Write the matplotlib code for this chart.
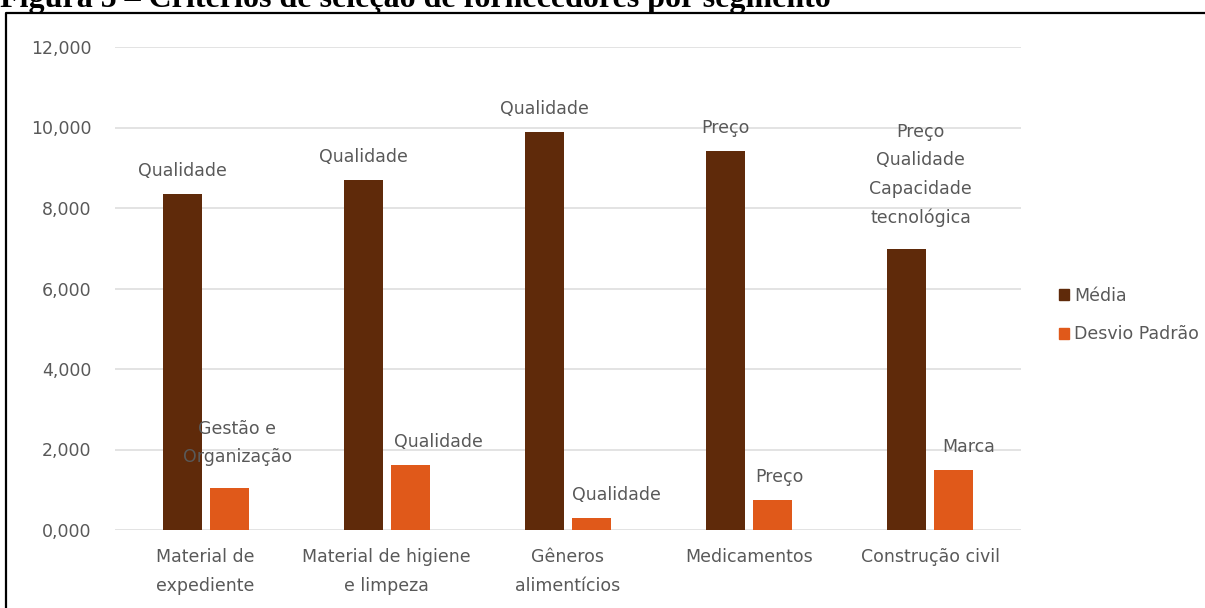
import numpy as np
import matplotlib.pyplot as plt
from matplotlib.lines import Line2D
from matplotlib.patches import Patch

# data
segmentos = ['Material de\nexpediente', 'Material de higiene\ne limpeza',
             'Gêneros\nalimentícios', 'Medicamentos', 'Construção civil']
media = [8.35, 8.70, 9.88, 9.42, 6.98]
desvio = [1.04, 1.62, 0.30, 0.75, 1.50]
rotulo_media = ['Qualidade', 'Qualidade', 'Qualidade', 'Preço',
                'Preço\nQualidade\nCapacidade\ntecnológica']
rotulo_desvio = ['Gestão e\nOrganização', 'Qualidade', 'Qualidade', 'Preço', 'Marca']
yticks = [0, 2, 4, 6, 8, 10, 12]

cor_media = '#5f2a0a'
cor_desvio = '#e0591a'
cinza = '#595959'
fonte = 'DejaVu Sans'
fs = 12.5

W, H = 1205, 608
fig = plt.figure(figsize=(W / 100, H / 100), dpi=100)
ax = fig.add_axes([115 / W, (H - 530) / H, 906 / W, (530 - 47) / H])

x = np.arange(len(segmentos))
larg = 0.215
off = 0.13
b1 = ax.bar(x - off, media, larg, color=cor_media, label='Média', zorder=3)
b2 = ax.bar(x + off, desvio, larg, color=cor_desvio, label='Desvio Padrão', zorder=3)

# bar labels (small pixel shifts to mimic the original placement)
dx_media = [0, 0, 0, 0, 14]
dx_desvio = [8, 28, 25, 7, 15]
for i in range(len(x)):
    for txt, xi, yi, dx in [(rotulo_media[i], x[i] - off, media[i], dx_media[i]),
                            (rotulo_desvio[i], x[i] + off, desvio[i], dx_desvio[i])]:
        dy = 14 if '\n' not in txt else 22
        ax.annotate(txt, (xi, yi), xytext=(dx, dy),
                    textcoords='offset pixels', ha='center', va='bottom',
                    fontsize=fs, color=cinza, family=fonte, linespacing=1.75)

ax.set_xlim(-0.5, len(x) - 0.5)
ax.set_ylim(0, 12)
ax.set_yticks(yticks)
ax.set_yticklabels([('%.3f' % v).replace('.', ',') for v in yticks])
ax.set_xticks(x)
ax.set_xticklabels(segmentos, linespacing=1.8)
ax.tick_params(axis='both', length=0, colors=cinza, labelsize=fs)
ax.tick_params(axis='y', pad=17)
ax.tick_params(axis='x', pad=13)
for t in ax.get_xticklabels() + ax.get_yticklabels():
    t.set_family(fonte)
ax.yaxis.grid(True, color='#dedede', linewidth=1.2, zorder=0)
for s in ax.spines.values():
    s.set_visible(False)

handles = [Patch(color=cor_media), Patch(color=cor_desvio)]
fig.legend(handles, ['Média', 'Desvio Padrão'], loc='center left',
           bbox_to_anchor=(1043 / W, (H - 315) / H), frameon=False,
           handlelength=0.6, handleheight=0.6, handletextpad=0.3,
           labelspacing=1.2, prop={'family': fonte, 'size': fs},
           labelcolor=cinza)

# figure caption (cut off at the top, as in the source) and frame
fig.text(0, 1 - 7 / H, 'Figura 5 – Critérios de seleção de fornecedores por segmento',
         ha='left', va='baseline', fontsize=23, fontweight='bold',
         family='Liberation Serif', color='black')
fig.add_artist(Line2D([6 / W, 6 / W, 1], [0, 1 - 13 / H, 1 - 13 / H],
                      transform=fig.transFigure, color='black', linewidth=1.6))

fig.savefig('out.png', dpi=100)
